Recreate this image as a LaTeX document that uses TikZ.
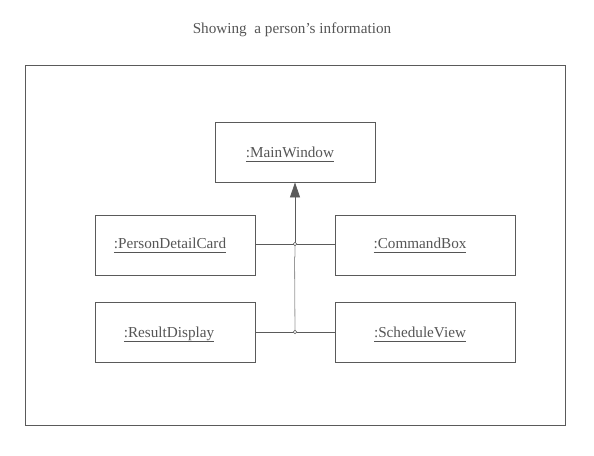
\documentclass[tikz,border=0pt]{standalone}
\usepackage{fontspec}
\setmainfont{Liberation Serif}
\usetikzlibrary{arrows.meta}
\definecolor{ln}{HTML}{5A5A5A}
\definecolor{tx}{HTML}{555555}
\newcommand\myul[1]{\underline{\vphantom{Ay}#1}}
\begin{document}
\begin{tikzpicture}[x=1pt,y=-1pt,
  obj/.style={draw=ln, line width=0.8pt, minimum height=60pt, inner sep=0pt},
  lbl/.style={text=tx, font=\fontsize{15.2}{17}\selectfont, inner sep=0pt, anchor=base},
  conn/.style={draw=ln, line width=0.8pt},
  junc/.style={circle, draw=ln, fill=white, line width=0.6pt, inner sep=0pt, minimum size=3.5pt}]
\useasboundingbox (0,0) rectangle (594,455);
\node[lbl] (title) at (292,33) {Showing\ \ a person's information};
\node[draw=ln, line width=0.8pt, minimum width=540pt, minimum height=360pt, inner sep=0pt] (frame) at (295,245) {};
\node[obj, minimum width=160pt] (main) at (295,152) {};
\node[obj, minimum width=160pt] (pdc) at (175,245) {};
\node[obj, minimum width=180pt] (cb) at (425,245) {};
\node[obj, minimum width=160pt] (rd) at (175,332) {};
\node[obj, minimum width=180pt] (sv) at (425,332) {};
\node[lbl] (mainl) at (290,157) {\myul{:MainWindow}};
\node[lbl] (pdcl) at (170,248) {\myul{:PersonDetailCard}};
\node[lbl] (cbl) at (420,248) {\myul{:CommandBox}};
\node[lbl] (rdl) at (169,337) {\myul{:ResultDisplay}};
\node[lbl] (svl) at (420,337) {\myul{:ScheduleView}};
\coordinate (j1) at (295,244);
\coordinate (j2) at (295,332);
\draw[conn] (pdc.east |- j1) -- (cb.west |- j1);
\draw[conn] (rd.east) -- (sv.west);
\draw[conn, draw=gray!80] (j2) -- (294.5,257) -- (295,257) -- (j1);
\draw[conn, -{Triangle[width=10pt,length=15pt]}, draw=ln, fill=ln] (j1) -- (main.south);
\node[junc] (c1) at (j1) {};
\node[junc] (c2) at (j2) {};
\end{tikzpicture}
\end{document}
